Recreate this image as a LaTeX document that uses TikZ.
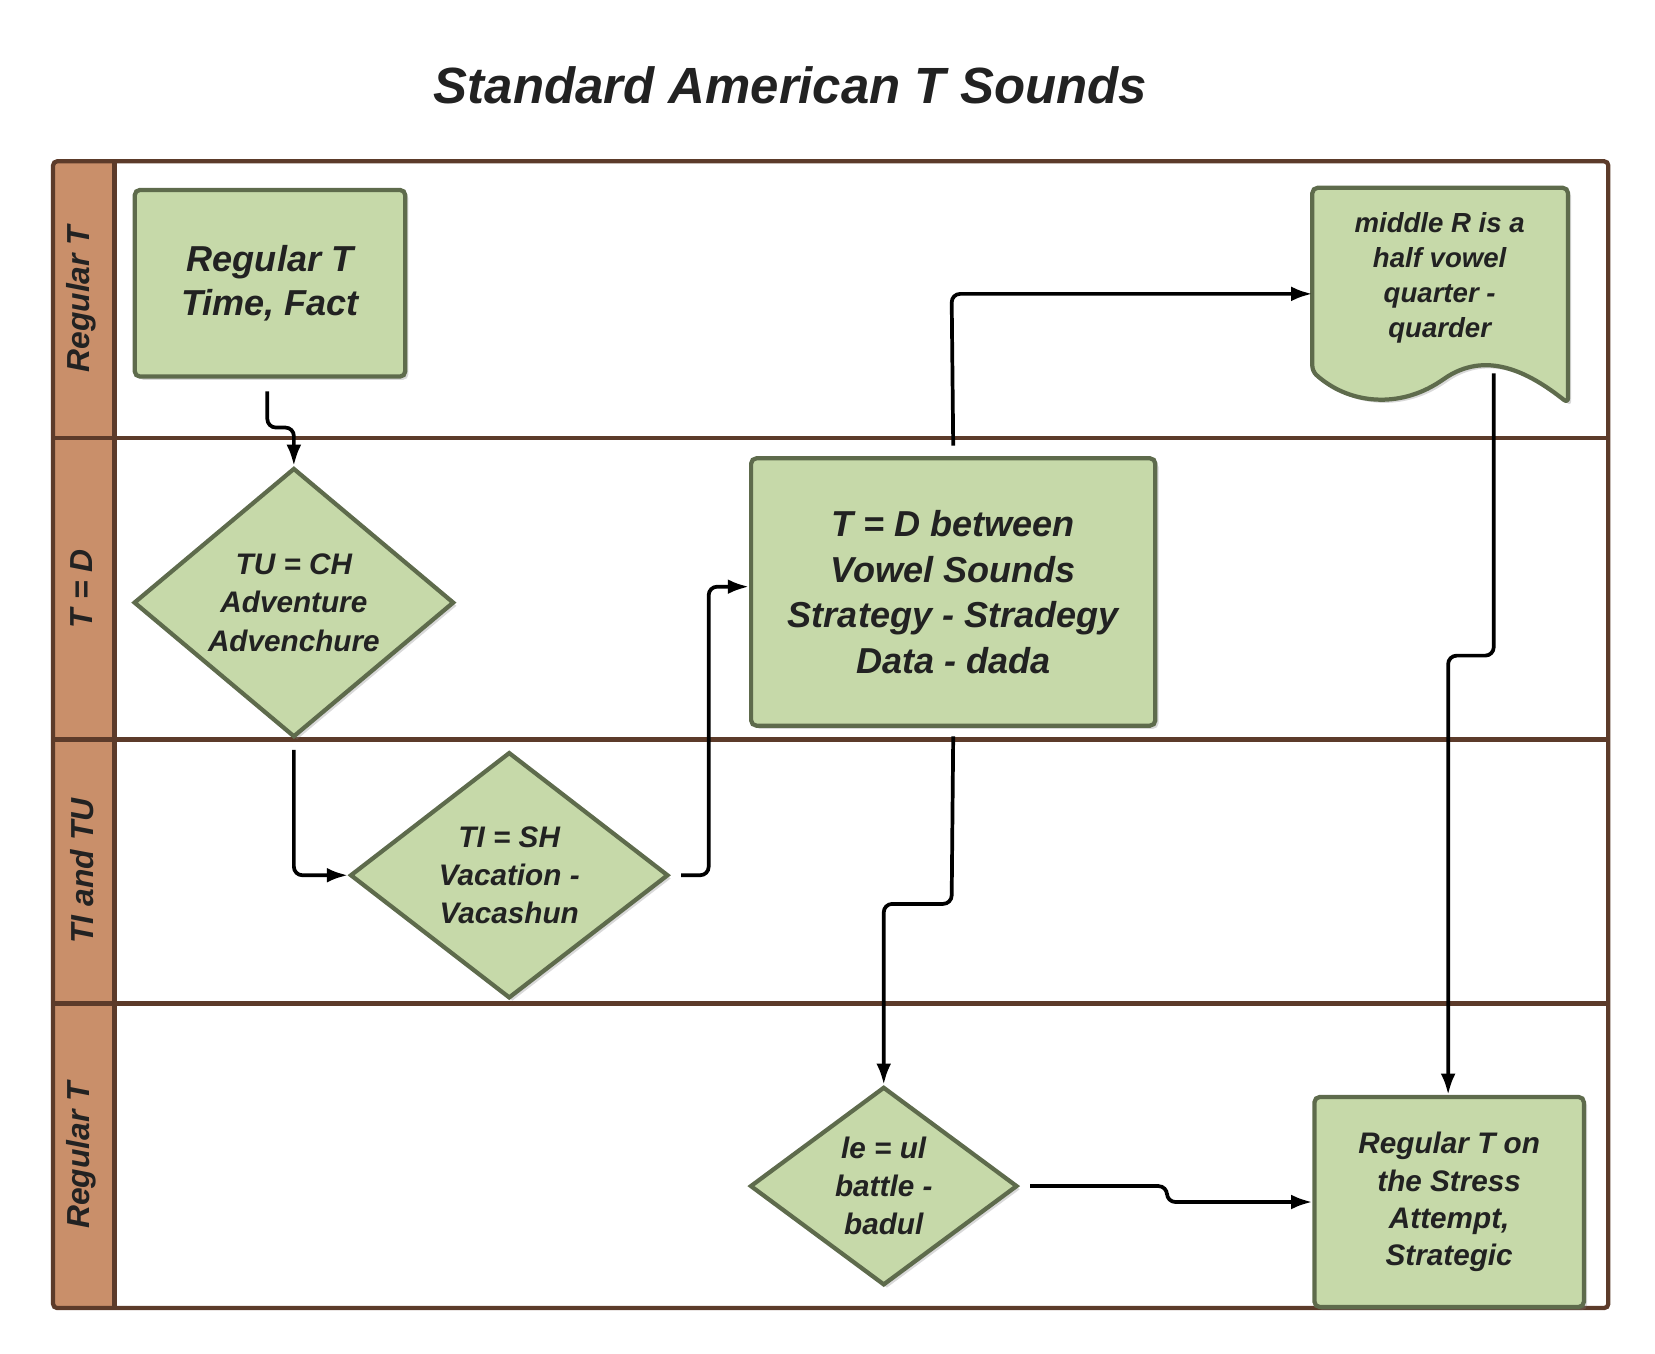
\documentclass[tikz,border=0pt]{standalone}
\usepackage{fontspec}
\setmainfont{Liberation Sans}
\usetikzlibrary{shapes.geometric,arrows.meta,shadows}
\definecolor{fillg}{HTML}{C6D9A9}
\definecolor{edgeg}{HTML}{5E6B4C}
\definecolor{frameb}{HTML}{5C3B2A}
\definecolor{headb}{HTML}{C98F6A}
\definecolor{txt}{HTML}{222222}
\tikzset{
 x=1pt,y=-1pt,
 shapebase/.style={fill=fillg,draw=edgeg,line width=4pt,text=txt,font=\bfseries\itshape,align=center,
   drop shadow={shadow xshift=3pt,shadow yshift=-3pt,opacity=0.3}},
 boxn/.style={shapebase,rectangle,rounded corners=5pt,anchor=north west},
 dia/.style={shapebase,diamond,inner sep=0pt},
 flow/.style={line width=3.5pt,rounded corners=8pt,-{Latex[length=20pt,width=14pt]}},
 lane/.style={rotate=90,font=\bfseries\itshape\fontsize{30}{32}\selectfont,text=txt}
}
\begin{document}
\begin{tikzpicture}
\useasboundingbox (0,0) rectangle (1560,1276);
\node[font=\bfseries\itshape\fontsize{48}{52}\selectfont,text=txt] (title) at (745,80) {Standard American T Sounds};
% frame
\fill[headb] (50,152) rectangle (108,1233);
\draw[frameb,line width=4pt] (108,152) -- (108,1233);
\foreach \yy in {413,697,946} \draw[frameb,line width=4pt] (50,\yy) -- (1516,\yy);
\draw[frameb,line width=4pt,rounded corners=4pt] (50,152) rectangle (1516,1233);
\node[lane] (l1) at (77,282) {Regular T};
\node[lane] (l2) at (77,555) {T = D};
\node[lane] (l3) at (77,821) {TI and TU};
\node[lane] (l4) at (77,1089) {Regular T};
% nodes
\node[boxn,minimum width=255pt,minimum height=176pt,font=\bfseries\itshape\fontsize{34}{42}\selectfont] (b1) at (125,177) {Regular T\\Time, Fact};
\node[dia,minimum width=302pt,minimum height=226pt,font=\bfseries\itshape\fontsize{28}{36}\selectfont] (d1) at (277,568) {TU = CH\\Adventure\\Advenchure};
\node[dia,minimum width=300pt,minimum height=232pt,font=\bfseries\itshape\fontsize{28}{36}\selectfont] (d2) at (480,825) {TI = SH\\Vacation -\\Vacashun};
\node[boxn,minimum width=381pt,minimum height=252pt,font=\bfseries\itshape\fontsize{34}{43}\selectfont] (b2) at (706,430) {T = D between\\Vowel Sounds\\Strategy - Stradegy\\Data - dada};
\draw[fill=fillg,draw=edgeg,line width=4pt,rounded corners=5pt,drop shadow={shadow xshift=3pt,shadow yshift=-3pt,opacity=0.3}]
  (1237,177) -- (1478,177) -- (1478,380) .. controls (1440,350) and (1400,330) .. (1357,360)
  .. controls (1315,385) and (1270,380) .. (1237,350) -- cycle;
\node[font=\bfseries\itshape\fontsize{26}{33}\selectfont,text=txt,align=center] (doc) at (1357,262) {middle R is a\\half vowel\\quarter -\\quarder};
\node[dia,minimum width=252pt,minimum height=187pt,font=\bfseries\itshape\fontsize{28}{36}\selectfont] (d3) at (833,1118) {le = ul\\battle -\\badul};
\node[boxn,minimum width=254pt,minimum height=198pt,font=\bfseries\itshape\fontsize{28}{35}\selectfont] (b3) at (1237,1032) {Regular T on\\the Stress\\Attempt,\\Strategic};
\coordinate (docb) at (1408,352);
% connectors
\draw[flow] ([yshift=-12pt]b1.south -| 252,0) -- (252,403) -- (277,403) -- (d1.north);
\draw[flow] ([yshift=-10pt]d1.south) -- (277,825) -- (d2.west);
\draw[flow] ([xshift=10pt]d2.east) -- (668,825) -- (668,553) -- (b2.west |- 0,553);
\draw[flow] ([yshift=10pt]b2.north) -- (897,277) -- (1237,277);
\draw[flow] ([yshift=-8pt]b2.south) -- (897,852) -- (833,852) -- (d3.north);
\draw[flow] (docb) -- (1408,618) -- (1365,618) -- (b3.north -| 1365,0);
\draw[flow] ([xshift=10pt]d3.east) -- (1100,1118) -- (1100,1133) -- (b3.west |- 0,1133);
\end{tikzpicture}
\end{document}
